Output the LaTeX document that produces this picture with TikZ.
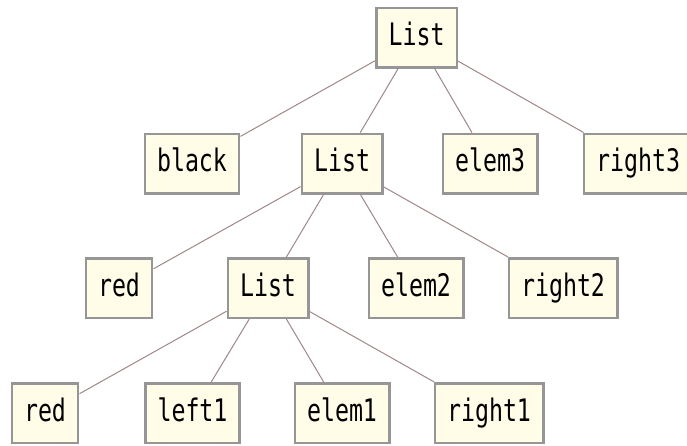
\documentclass[tikz,border=0pt]{standalone}
\usepackage{fontspec}
\newfontfamily\boxfont[FakeStretch=0.75]{DejaVu Sans Mono}
\definecolor{boxfill}{RGB}{255,253,231}
\definecolor{boxline}{RGB}{150,150,150}
\definecolor{edgecol}{RGB}{160,135,135}
\tikzset{
  tbox/.style={draw=boxline, line width=2.5pt, fill=boxfill, inner xsep=12.25pt,
    minimum height=59.5pt, text height=22pt, text depth=6pt,
    font=\fontsize{31}{31}\boxfont},
  tedge/.style={draw=edgecol, line width=1pt}
}
\begin{document}
\begin{tikzpicture}[x=1pt,y=-1pt]
\useasboundingbox (0,0) rectangle (687,445);
\node[tbox] (l0) at (416.5,37.5) {List};
\node[tbox] (black) at (192,163.5) {black};
\node[tbox] (l1) at (342,163.5) {List};
\node[tbox] (e3) at (490,163.5) {elem3};
\node[tbox] (r3) at (638,163.5) {right3};
\node[tbox] (red1) at (119,288) {red};
\node[tbox] (l2) at (268,288) {List};
\node[tbox] (e2) at (416,288) {elem2};
\node[tbox] (r2) at (563,288) {right2};
\node[tbox] (red2) at (45,413) {red};
\node[tbox] (left1) at (192.5,413) {left1};
\node[tbox] (e1) at (342,413) {elem1};
\node[tbox] (r1) at (489,413) {right1};
\foreach \a/\b in {l0/black,l0/l1,l0/e3,l0/r3,l1/red1,l1/l2,l1/e2,l1/r2,l2/red2,l2/left1,l2/e1,l2/r1}
  \draw[tedge] (\a) -- (\b);
\end{tikzpicture}
\end{document}
